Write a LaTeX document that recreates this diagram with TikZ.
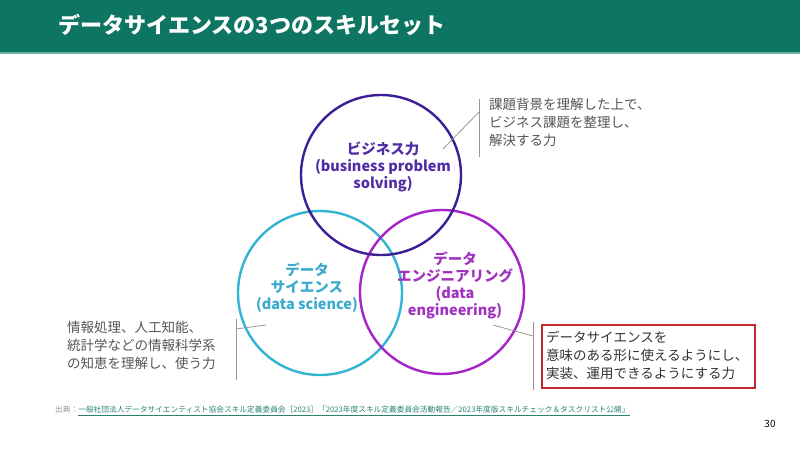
\documentclass[tikz,border=0pt]{standalone}
\usepackage{fontspec}
\setmainfont{Noto Sans CJK JP}
\usetikzlibrary{positioning}
\definecolor{kopf}{RGB}{14,117,99}
\definecolor{kopfline}{RGB}{110,180,165}
\definecolor{lila}{RGB}{62,30,150}
\definecolor{lilatext}{RGB}{80,45,165}
\definecolor{cyanring}{RGB}{50,180,210}
\definecolor{cyantext}{RGB}{60,170,205}
\definecolor{magring}{RGB}{165,35,200}
\definecolor{magtext}{RGB}{160,50,190}
\definecolor{grautext}{RGB}{85,85,85}
\definecolor{graulinie}{RGB}{150,150,150}
\definecolor{rotbox}{RGB}{195,40,45}
\definecolor{quelle}{RGB}{40,130,110}

\begin{document}
\begin{tikzpicture}[x=1pt,y=-1pt,
    ring/.style={line width=2.4pt},
    kreistext/.style={align=center,font=\fontsize{14.5}{17}\selectfont\bfseries},
    notiz/.style={anchor=north west,align=left,text=grautext,inner sep=0pt,
        font=\fontsize{13.5}{17.8}\selectfont},
    zeiger/.style={draw=graulinie,line width=0.8pt}]
        \useasboundingbox (0,0) rectangle (800,450);

        % Kopfzeile
        \fill[kopf] (0,0) rectangle (800,52);
        \fill[kopfline] (0,52) rectangle (800,54);
        \node[anchor=west,text=white,font=\fontsize{22}{24}\selectfont\bfseries] (titel) at (55,25) {データサイエンスの3つのスキルセット};

        % Mittelpunkte der drei Kreise (Pixel der Vorlage)
        \coordinate (B) at (381,175); % ビジネス力
        \coordinate (S) at (320,293); % データサイエンス
        \coordinate (E) at (442,292); % データエンジニアリング

        \draw[ring,cyanring] (S) circle (82);
        \draw[ring,magring] (E) circle (82);
        \draw[ring,lila] (B) circle (80);

        \node[kreistext,text=lilatext] (btext) at (383,167) {ビジネス力\\(business problem\\solving)};
        \node[kreistext,text=cyantext] (stext) at (307,288) {データ\\サイエンス\\(data science)};
        \node[kreistext,text=magtext] (etext) at (455,285) {データ\\エンジニアリング\\(data\\engineering)};

        % Hinweis oben rechts
        \coordinate (b1) at (443,149);
        \coordinate (b2) at (479,112);
        \coordinate (b3) at (479,99);
        \coordinate (b4) at (479,157);
        \draw[zeiger] (b1) -- (b2);
        \draw[zeiger] (b3) -- (b4);
        \node[notiz] (bnotiz) at (489,98) {課題背景を理解した上で、\\ビジネス課題を整理し、\\解決する力};

        % Hinweis links
        \coordinate (s1) at (266,325);
        \coordinate (s2) at (236,329);
        \coordinate (s3) at (236,319);
        \coordinate (s4) at (236,380);
        \draw[zeiger] (s1) -- (s2);
        \draw[zeiger] (s3) -- (s4);
        \node[notiz] (snotiz) at (67,321) {情報処理、人工知能、\\統計学などの情報科学系\\の知恵を理解し、使う力};

        % Hinweis unten rechts mit rotem Rahmen
        \coordinate (e1) at (493,325);
        \coordinate (e2) at (533,336);
        \coordinate (e3) at (533,322);
        \coordinate (e4) at (533,390);
        \draw[zeiger] (e1) -- (e2);
        \draw[zeiger] (e3) -- (e4);
        \draw[rotbox,line width=1.5pt] (542,325) rectangle (755,388);
        \node[notiz,text=black!80] (enotiz) at (546,331) {データサイエンスを\\意味のある形に使えるようにし、\\実装、運用できるようにする力};

        % Quelle und Seitenzahl
        \node[anchor=west,inner sep=0pt,font=\fontsize{7.7}{9}\selectfont] (quelle) at (55,411)
            {\textcolor{graulinie}{出典：}\textcolor{quelle}{\underline{一般社団法人データサイエンティスト協会スキル定義委員会［2023］「2023年度スキル定義委員会活動報告／2023年度版スキルチェック＆タスクリスト公開」}}};
        \node[font=\fontsize{10}{12}\selectfont] (seite) at (770,424) {30};
    \end{tikzpicture}
\end{document}
